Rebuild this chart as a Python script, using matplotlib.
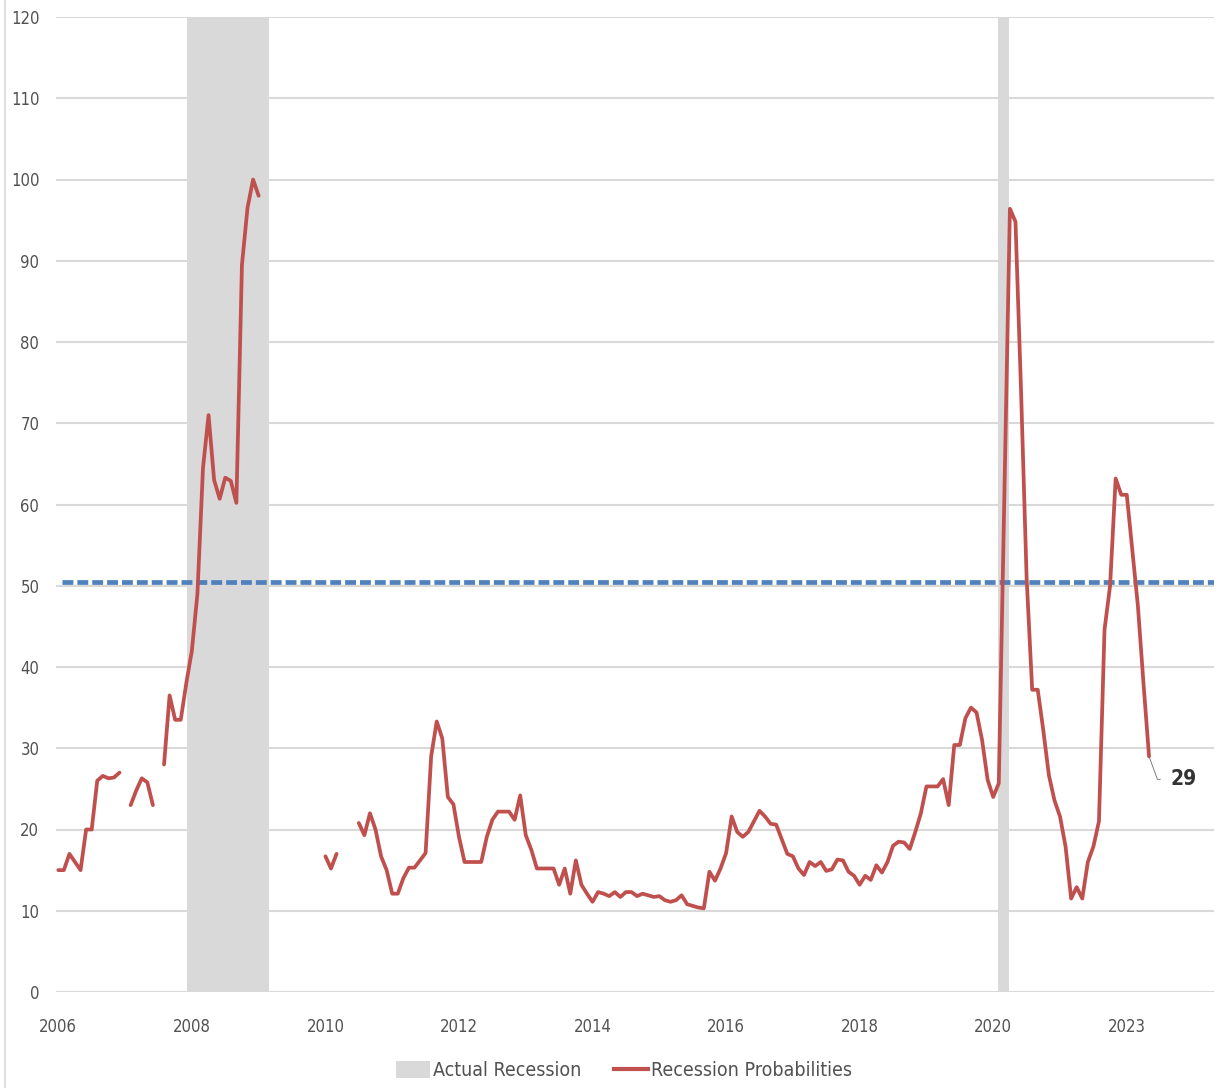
import numpy as np
import matplotlib
matplotlib.use('Agg')
import matplotlib.pyplot as plt
from matplotlib import font_manager as fm
from matplotlib.patches import Patch
from matplotlib.lines import Line2D

nan = np.nan

# monthly readings from the first month on the axis, NaN = no reading
probabilities = [
    15, 15, 17, 16, 15, 20, 20, 26, 26.6, 26.3, 26.4, 27,
    nan, 23, 24.8, 26.3, 25.8, 23, nan, 28, 36.5, 33.5, 33.5, 38,
    42, 49, 64.5, 71, 63, 60.7, 63.3, 62.9, 60.2, 89.5, 96.5, 100,
    98, nan, nan, nan, nan, nan, nan, nan, nan, nan, nan, nan,
    16.7, 15.2, 17, nan, nan, nan, 20.8, 19.3, 22, 20, 16.7, 15,
    12.1, 12.1, 14, 15.3, 15.3, 16.2, 17.1, 29, 33.3, 31.2, 24, 23.1,
    19.1, 16, 16, 16, 16, 19.1, 21.2, 22.2, 22.2, 22.2, 21.2, 24.2,
    19.3, 17.5, 15.2, 15.2, 15.2, 15.2, 13.2, 15.2, 12.1, 16.2, 13.2, 12.1,
    11.1, 12.3, 12.1, 11.8, 12.3, 11.7, 12.3, 12.3, 11.8, 12.1, 11.9, 11.7,
    11.8, 11.3, 11.1, 11.3, 11.9, 10.8, 10.6, 10.4, 10.3, 14.8, 13.7, 15.2,
    17.1, 21.6, 19.7, 19.1, 19.7, 21.0, 22.3, 21.6, 20.7, 20.6, 18.8, 17.0,
    16.7, 15.2, 14.4, 16.0, 15.5, 16.0, 14.9, 15.1, 16.3, 16.2, 14.8, 14.3,
    13.2, 14.3, 13.8, 15.6, 14.7, 16.0, 18.0, 18.5, 18.4, 17.6, 19.7, 22.0,
    25.3, 25.3, 25.3, 26.2, 23.0, 30.4, 30.4, 33.7, 35.0, 34.4, 31.0, 26.1,
    24.0, 25.7, 61, 96.4, 94.8, 74, 51, 37.2, 37.2, 32.2, 26.7, 23.6,
    21.6, 17.9, 11.5, 12.9, 11.5, 16.0, 17.9, 21, 44.6, 50, 63.2, 61.2,
    61.2, 54.4, 47.5, 38, 29,
]
n_months = 208
threshold = 50.5

# recessions, in months from the start of the axis
recession_start = [23.1, 168.9]
recession_end = [37.9, 170.9]

year_labels = ['2006', '2008', '2010', '2012', '2014', '2016', '2018', '2020', '2023']
y_ticks = list(range(0, 121, 10))

red = '#c0504d'
blue = '#4f81bd'
shade = '#d9d9d9'
text_grey = '#525252'

# the original uses a narrow face; take a condensed one if there is one
def pick_narrow_font():
    fonts = fm.fontManager.ttflist
    names = {f.name for f in fonts}
    if 'Liberation Sans Narrow' in names:
        return 'Liberation Sans Narrow', 'normal'
    for name in ['DejaVu Sans', 'Noto Sans', 'Open Sans', 'Roboto']:
        if any(f.name == name and f.stretch == 'condensed' for f in fonts):
            return name, 'condensed'
    return 'DejaVu Sans', 'normal'

font_name, font_stretch = pick_narrow_font()
plt.rcParams['font.family'] = [font_name, 'DejaVu Sans']
plt.rcParams['font.stretch'] = font_stretch

fig = plt.figure(figsize = (12.19, 10.88), dpi = 100)
ax = fig.add_axes([56 / 1219, 96 / 1088, 1158 / 1219, 975 / 1088])

months = np.arange(len(probabilities))
all_months = np.arange(n_months)

for start, end in zip(recession_start, recession_end):
    ax.axvspan(start, end, color = shade, lw = 0, zorder = 1)

ax.plot(all_months + 0.6, np.full(n_months, threshold), color = blue, lw = 3.4,
        dashes = (2.3, 0.85), dash_capstyle = 'butt', zorder = 2)
ax.plot(months, probabilities, color = red, lw = 2.7,
        solid_joinstyle = 'round', solid_capstyle = 'round', zorder = 3)

last = len(probabilities) - 1
ax.annotate(
    '29', xy = (last, probabilities[last]),
    xytext = (21, -23), textcoords = 'offset pixels',
    ha = 'left', va = 'center', fontsize = 15, fontweight = 'bold',
    color = '#333333',
    arrowprops = dict(arrowstyle = '-', color = '#7f7f7f', lw = 0.7,
                      shrinkA = 5, shrinkB = 1,
                      connectionstyle = 'angle,angleA=0,angleB=-70,rad=0'),
    zorder = 4,
    )

ax.set_xlim((56 - 58.3) / 5.565, (1214 - 58.3) / 5.565)
ax.set_ylim(0, 120)
ax.set_xticks(np.arange(0, n_months, 24)[:len(year_labels)])
ax.set_xticklabels(year_labels)
ax.set_yticks(y_ticks)
ax.tick_params(axis = 'both', length = 0, labelsize = 12, labelcolor = text_grey)
ax.tick_params(axis = 'x', pad = 19)
ax.tick_params(axis = 'y', pad = 12)
for s in ax.spines.values():
    s.set_visible(False)
ax.set_axisbelow(True)
ax.grid(axis = 'y', color = shade, lw = 1.5)
ax.grid(axis = 'x', visible = False)

# chart area border on the left
fig.add_artist(Line2D([5 / 1219, 5 / 1219], [0, 1], transform = fig.transFigure,
                      color = shade, lw = 1.2))

handles = [
    Patch(facecolor = shade, edgecolor = 'none', label = 'Actual Recession'),
    Line2D([], [], color = red, lw = 3, label = 'Recession Probabilities'),
    ]
fig.legend(handles = handles, loc = 'center', bbox_to_anchor = (0.512, 0.016),
           ncol = 2, frameon = False, fontsize = 14, labelcolor = text_grey,
           handlelength = 1.75, handleheight = 0.93, handletextpad = 0.15,
           columnspacing = 1.65, borderpad = 0)

fig.savefig('out.png', dpi = 100)
